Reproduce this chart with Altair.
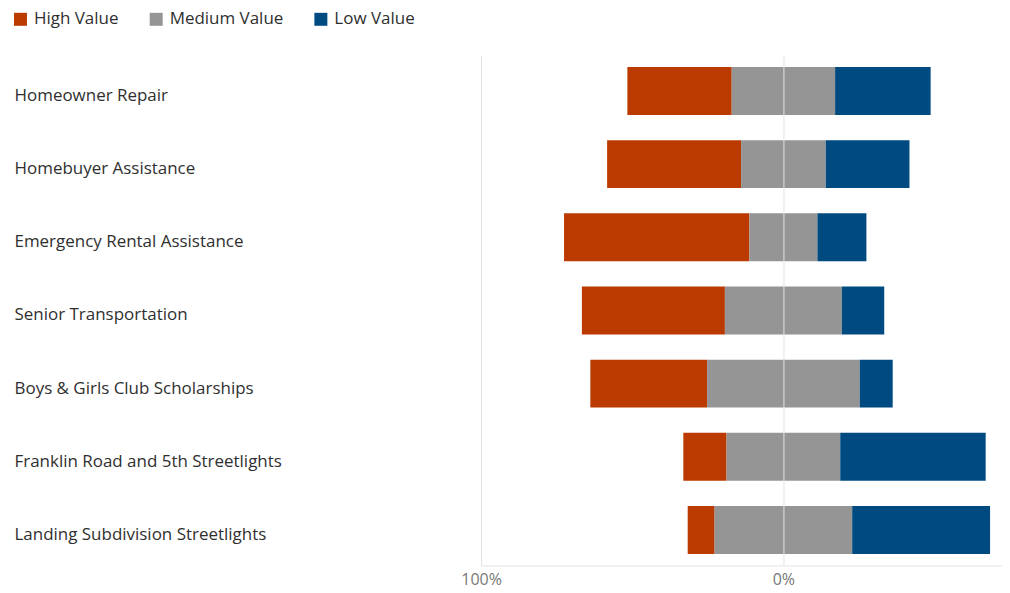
import altair as alt
import pandas as pd

programs = [
    "Homeowner Repair",
    "Homebuyer Assistance",
    "Emergency Rental Assistance",
    "Senior Transportation",
    "Boys & Girls Club Scholarships",
    "Franklin Road and 5th Streetlights",
    "Landing Subdivision Streetlights",
]
high = [34.5, 44.3, 61.3, 47.3, 38.6, 14.3, 8.9]
medium = [34.2, 28.0, 22.5, 38.7, 50.5, 37.6, 45.5]
low = [31.6, 27.7, 16.2, 14.0, 10.9, 48.1, 45.6]
levels = ["High Value", "Medium Value", "Low Value"]
colors = ["#BB3A00", "#959595", "#004A82"]
x_ticks = [-100, 0]

rows = []
for p, h, m, l in zip(programs, high, medium, low):
    rows.append({"program": p, "level": "High Value", "start": -m / 2 - h, "end": -m / 2, "value": h})
    rows.append({"program": p, "level": "Medium Value", "start": -m / 2, "end": m / 2, "value": m})
    rows.append({"program": p, "level": "Low Value", "start": m / 2, "end": m / 2 + l, "value": l})
df = pd.DataFrame(rows)

chart = alt.Chart(df).mark_bar().encode(
    x=alt.X(
        "start:Q",
        scale=alt.Scale(domain=[-100, 72.3], nice=False, zero=False),
        axis=alt.Axis(
            values=x_ticks,
            labelExpr="abs(datum.value) + '%'",
            grid=True,
            gridColor="#e3e3e3",
            domainColor="#e3e3e3",
            ticks=False,
            labelColor="#777777",
            labelFontSize=16,
            labelPadding=6,
            labelFlush=False,
            zindex=1,
            title=None,
        ),
    ),
    x2="end:Q",
    y=alt.Y(
        "program:N",
        sort=programs,
        scale=alt.Scale(paddingInner=0.345, paddingOuter=0.157),
        axis=alt.Axis(
            title=None,
            domain=False,
            ticks=False,
            labelAlign="left",
            labelPadding=468,
            labelOffset=5,
            labelFontSize=17,
            labelColor="#2f2f2f",
            labelLimit=400,
        ),
    ),
    color=alt.Color(
        "level:N",
        scale=alt.Scale(domain=levels, range=colors),
        legend=alt.Legend(
            title=None,
            orient="none",
            legendX=-470,
            legendY=-45,
            direction="horizontal",
            symbolType="square",
            symbolSize=169,
            symbolStrokeWidth=0,
            labelFontSize=17,
            labelColor="#2f2f2f",
            columnPadding=29,
            labelOffset=5,
        ),
    ),
    tooltip=["program:N", "level:N", "value:Q"],
).properties(
    width=522,
    height=511,
    padding={"left": 4, "top": 2, "right": 0, "bottom": 2},
).configure(font="Open Sans").configure_view(stroke=None)

chart.save("out.html", embed_options={"renderer": "svg", "actions": False})
